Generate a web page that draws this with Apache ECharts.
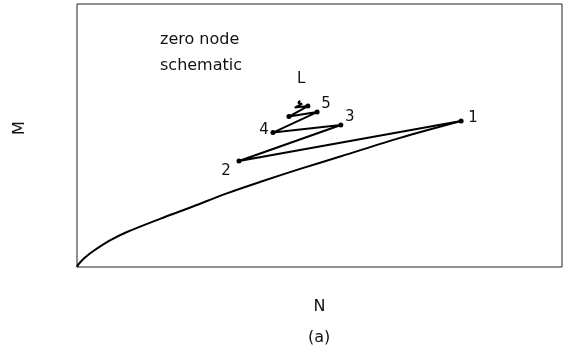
<!DOCTYPE html>
<html>
<head>
<meta charset="utf-8">
<script src="https://cdn.jsdelivr.net/npm/echarts@6/dist/echarts.min.js"></script>
<style>
  html, body { margin: 0; padding: 0; background: #fff; }
  #chart { width: 567px; height: 353px; }
</style>
</head>
<body>
<div id="chart"></div>
<script>
// Trajectory from the origin up to the first node (N, M)
const curveN = [0, 0.3, 0.9, 1.9, 3.3, 6.8, 10.3, 17.1, 23.9, 30.9, 37.7, 46.0, 54.6, 66.6, 79.2];
const curveM = [0, 1.0, 2.3, 4.0, 6.0, 10.1, 13.3, 18.3, 23.0, 28.0, 32.3, 37.3, 42.2, 49.1, 55.5];

// Iterated nodes spiralling in to the limit point L
const nodeN = [79.2, 33.4, 54.4, 40.4, 49.5, 43.7, 47.6, 44.9, 46.4, 45.6, 46.0];
const nodeM = [55.5, 40.3, 54.0, 51.1, 58.9, 57.2, 61.2, 60.6, 62.0, 62.4, 63.3];
const nodeTags = ['1', '2', '3', '4', '5', '', '', '', '', '', 'L'];

const FONT = 'DejaVu Sans';

// Where each node's tag sits relative to its dot
const tagOffsets = [[12, -3], [-13, 10], [9, -8], [-9, -2], [9, -8], [0, 0], [0, 0], [0, 0], [0, 0], [0, 0], [1, -21]];
const dotSizes = [5, 5, 5, 5, 5, 5, 5, 0, 0, 0, 0];

const curveData = curveN.map((n, i) => [n, curveM[i]]);
const nodeData = nodeN.map((n, i) => ({
  value: [n, nodeM[i]],
  symbolSize: dotSizes[i],
  label: {
    show: nodeTags[i] !== '',
    formatter: nodeTags[i],
    position: 'inside',
    offset: tagOffsets[i]
  }
}));

const chart = echarts.init(document.getElementById('chart'));
chart.setOption({
  animation: false,
  backgroundColor: '#fff',
  grid: {
    left: 77, right: 5, top: 4, bottom: 86,
    show: true, borderColor: '#222', borderWidth: 1
  },
  xAxis: {
    type: 'value', min: 0, max: 100,
    name: 'N', nameLocation: 'middle', nameGap: 32,
    nameTextStyle: { fontFamily: FONT, fontSize: 16, color: '#111' },
    axisLine: { show: false }, axisTick: { show: false },
    axisLabel: { show: false }, splitLine: { show: false }
  },
  yAxis: {
    type: 'value', min: 0, max: 100,
    name: 'M', nameLocation: 'middle', nameGap: 49, nameRotate: 90,
    nameTextStyle: { fontFamily: FONT, fontSize: 16, color: '#111', padding: [0, 0, 0, 15] },
    axisLine: { show: false }, axisTick: { show: false },
    axisLabel: { show: false }, splitLine: { show: false }
  },
  graphic: [
    {
      type: 'text', left: 160, top: 27,
      style: {
        text: 'zero node\nschematic', fontFamily: FONT, fontSize: 16,
        lineHeight: 26, fill: '#111'
      }
    },
    {
      type: 'text', left: 308, top: 330,
      style: { text: '(a)', fontFamily: FONT, fontSize: 16, fill: '#111' }
    }
  ],
  series: [
    {
      type: 'line', data: curveData, smooth: 0.3,
      showSymbol: false, silent: true,
      lineStyle: { color: '#000', width: 2 }
    },
    {
      type: 'line', data: nodeData,
      symbol: 'circle', showAllSymbol: true, silent: true,
      itemStyle: { color: '#000' },
      lineStyle: { color: '#000', width: 2 },
      label: { fontFamily: FONT, fontSize: 15, color: '#111' }
    }
  ]
});
</script>
</body>
</html>
